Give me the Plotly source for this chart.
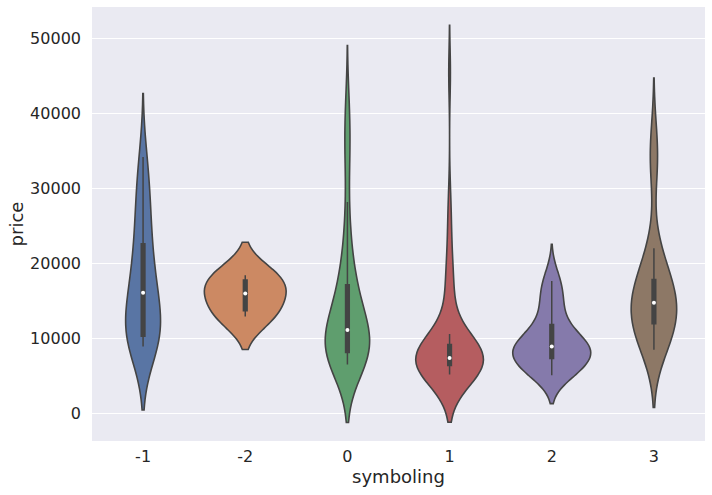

# Violin plot: car price by symboling
import numpy as np
import plotly.graph_objects as go

# Data (prices, grouped by symboling)
symboling = ["-1", "-2", "0", "1", "2", "3"]

price_m1 = [8930, 9290, 9700, 9960, 10245, 10295, 11000, 11900, 12940, 13415, 15985,
            16215, 16845, 18420, 18950, 22470, 22625, 24565, 28176, 28248, 31600, 34184]
price_m2 = [12940, 15985, 18420]
price_0 = [6530, 6575, 6669, 6785, 6855, 6918, 7053, 7126, 7295, 7349, 7499, 7603, 7775,
           7895, 7957, 8058, 8180, 8238, 8449, 8558, 8778, 8916, 9095, 9258, 9298, 9538,
           9639, 9895, 9989, 10198, 10595, 10898, 11150, 11245, 11549, 11694, 12170, 12440,
           12629, 12945, 13200, 13415, 13499, 13950, 14399, 15040, 15510, 16430, 17070,
           17450, 17710, 18150, 18620, 19699, 21105, 22018, 23875, 25552, 28176,
           32250, 35550, 36000, 36880, 40960, 41315]
price_1 = [5195, 5348, 5389, 5399, 5499, 5572, 5749, 6095, 6189, 6229, 6295, 6338, 6377,
           6400, 6479, 6529, 6649, 6692, 6795, 6849, 6918, 6989, 7099, 7129, 7198, 7295,
           7420, 7499, 7609, 7689, 7775, 7898, 7957, 8013, 8195, 8358, 8449, 8778, 8845,
           9070, 9560, 9960, 10295, 10595, 13499, 15250, 16500, 17669, 18920, 21485, 24565,
           28248, 45400]
price_2 = [5118, 5151, 5195, 5389, 5572, 6229, 6669, 7295, 7395, 7609, 7738, 7799, 7975,
           8058, 8238, 8845, 9016, 9298, 9495, 9639, 9989, 10198, 10345, 11850, 11900,
           12945, 13645, 15250, 15645, 16430, 17680, 18780]
price_3 = [8499, 8845, 9279, 9959, 10295, 11199, 11850, 12330, 12764, 12964, 13200,
           13645, 14399, 14760, 15510, 15998, 16500, 16558, 17199, 17450, 18010, 19699,
           21485, 22018, 32528, 34028, 37028]

prices = [price_m1, price_m2, price_0, price_1, price_2, price_3]

# seaborn "deep" palette, desaturated like sns.violinplot does
colors = ["#5975a4", "#cc8963", "#5f9e6e", "#b55d60", "#857aab", "#8d7866"]
edge = "#444444"


def kde_peak(vals, bw):
    """Highest point of the gaussian KDE (to mimic seaborn's scale='area')."""
    grid = np.linspace(vals.min() - 2 * bw, vals.max() + 2 * bw, 600)
    z = (grid[:, None] - vals[None, :]) / bw
    dens = np.exp(-0.5 * z ** 2).sum(axis=1) / (len(vals) * bw * np.sqrt(2 * np.pi))
    return dens.max()


arrays = [np.array(v, dtype=float) for v in prices]
# scott's rule, same as scipy gaussian_kde
bws = [a.std(ddof=1) * len(a) ** (-1 / 5) for a in arrays]
peaks = [kde_peak(a, b) for a, b in zip(arrays, bws)]
widths = [0.8 * p / max(peaks) for p in peaks]

fig = go.Figure()

for cat, vals, col, bw, w in zip(symboling, arrays, colors, bws, widths):
    fig.add_trace(go.Violin(
        x=[cat] * len(vals),
        y=vals,
        name=cat,
        width=w,
        bandwidth=bw,
        spanmode="soft",
        scalegroup=cat,
        scalemode="width",
        fillcolor=col,
        opacity=1,
        line=dict(color=edge, width=1.6),
        points="outliers",
        marker=dict(opacity=0, size=1),
        box=dict(visible=True, width=0.045 * 0.8 / w, fillcolor=edge,
                 line=dict(color=edge, width=1.5)),
        meanline=dict(visible=False),
        hoverinfo="skip",
        showlegend=False,
    ))

# white median dots
medians = [float(np.median(v)) for v in prices]
fig.add_trace(go.Scatter(
    x=symboling, y=medians, mode="markers",
    marker=dict(color="white", size=4, line=dict(width=0)),
    hoverinfo="skip", showlegend=False,
))

font = dict(family="DejaVu Sans", size=16, color="#262626")

fig.update_layout(
    width=712, height=495,
    margin=dict(l=92, r=7, t=7, b=54),
    paper_bgcolor="white",
    plot_bgcolor="#EAEAF2",
    violinmode="overlay",
    font=font,
    showlegend=False,
)
fig.update_xaxes(
    type="category", categoryorder="array", categoryarray=symboling,
    range=[-0.5, 5.5], showgrid=False, zeroline=False, showline=False,
    ticks="", ticklabelstandoff=4, automargin=False,
    title=dict(text="symboling", font=dict(size=18), standoff=5),
)
fig.update_yaxes(
    range=[-3650, 54170], tickvals=[0, 10000, 20000, 30000, 40000, 50000],
    tickformat="d", showgrid=True, gridcolor="white", gridwidth=1.3,
    zeroline=False, showline=False, ticks="", ticklabelstandoff=10, automargin=False,
    title=dict(text="price", font=dict(size=18), standoff=1),
)

# drop the browser's default body margin so the figure sits at the corner
fig.write_html("out.html", config={"displayModeBar": False},
               post_script="document.body.style.margin = '0';")
